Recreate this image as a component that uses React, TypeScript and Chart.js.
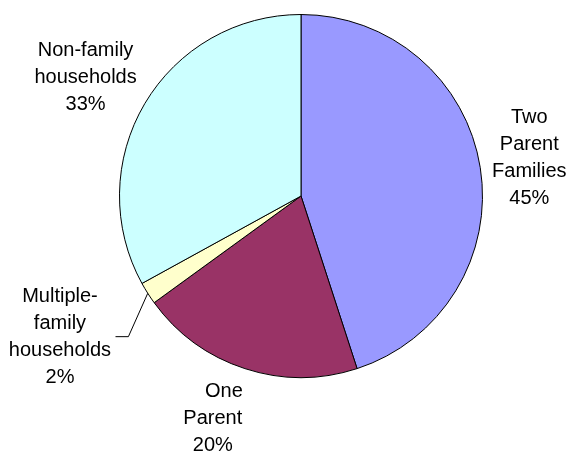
import React, { useEffect, useRef } from "react";
import { Chart, registerables } from "chart.js";

Chart.register(...registerables);

const categories = ["Two Parent Families", "One Parent", "Multiple-family households", "Non-family households"];
const shares = [45, 20, 2, 33];
const sliceColors = ["#9999FF", "#993366", "#FFFFCC", "#CCFFFF"];
const labelLines = [
  ["Two", "Parent", "Families", "45%"],
  ["\u00A0\u00A0\u00A0\u00A0One", "Parent", "20%"],
  ["Multiple-", "family", "households", "2%"],
  ["Non-family", "households", "33%"],
];

// label anchor (center x, first baseline) in units of pie radius, relative to pie center
const labelAnchors = [
  [1.258, -0.401],
  [-0.486, 1.11],
  [-1.328, 0.582],
  [-1.187, -0.769],
];

const labelPlugin = {
  id: "pieLabels",
  afterDraw(chart: any) {
    const ctx = chart.ctx;
    const meta = chart.getDatasetMeta(0);
    const first = meta.data[0];
    const cx = first.x;
    const cy = first.y;
    const r = first.outerRadius;
    ctx.save();
    ctx.fillStyle = "#000";
    ctx.font = "20px 'Liberation Sans', Arial, sans-serif";
    ctx.textAlign = "center";
    ctx.textBaseline = "alphabetic";
    const lh = 27;
    labelLines.forEach((lines, i) => {
      const [ax, ay] = labelAnchors[i];
      const x = cx + ax * r;
      const y0 = cy + ay * r;
      lines.forEach((t, j) => ctx.fillText(t, x, y0 + j * lh));
    });
    // leader line for the small slice
    const arc = meta.data[2];
    const mid = (arc.startAngle + arc.endAngle) / 2;
    const ex = cx + Math.cos(mid) * r;
    const ey = cy + Math.sin(mid) * r;
    ctx.strokeStyle = "#000";
    ctx.lineWidth = 1;
    ctx.beginPath();
    ctx.moveTo(ex, ey);
    ctx.lineTo(cx - 0.951 * r, cy + 0.775 * r);
    ctx.lineTo(cx - 1.022 * r, cy + 0.775 * r);
    ctx.stroke();
    ctx.restore();
  },
};

export default function App() {
  const ref = useRef<HTMLCanvasElement>(null);
  useEffect(() => {
    if (!ref.current) return;
    const chart = new Chart(ref.current, {
      type: "pie",
      data: {
        labels: categories,
        datasets: [
          {
            data: shares,
            backgroundColor: sliceColors,
            borderColor: "#000000",
            borderWidth: 1,
          },
        ],
      },
      options: {
        responsive: false,
        animation: false,
        layout: { padding: { left: 119, right: 88, top: 14, bottom: 77 } },
        plugins: {
          legend: { display: false },
          tooltip: { enabled: false },
        },
      },
      plugins: [labelPlugin],
    });
    return () => chart.destroy();
  }, []);
  return (
    <div style={{ position: "fixed", left: 0, top: 0, width: 571, height: 455, background: "#fff" }}>
      <canvas ref={ref} width={571} height={455} style={{ width: 571, height: 455 }} />
    </div>
  );
}
